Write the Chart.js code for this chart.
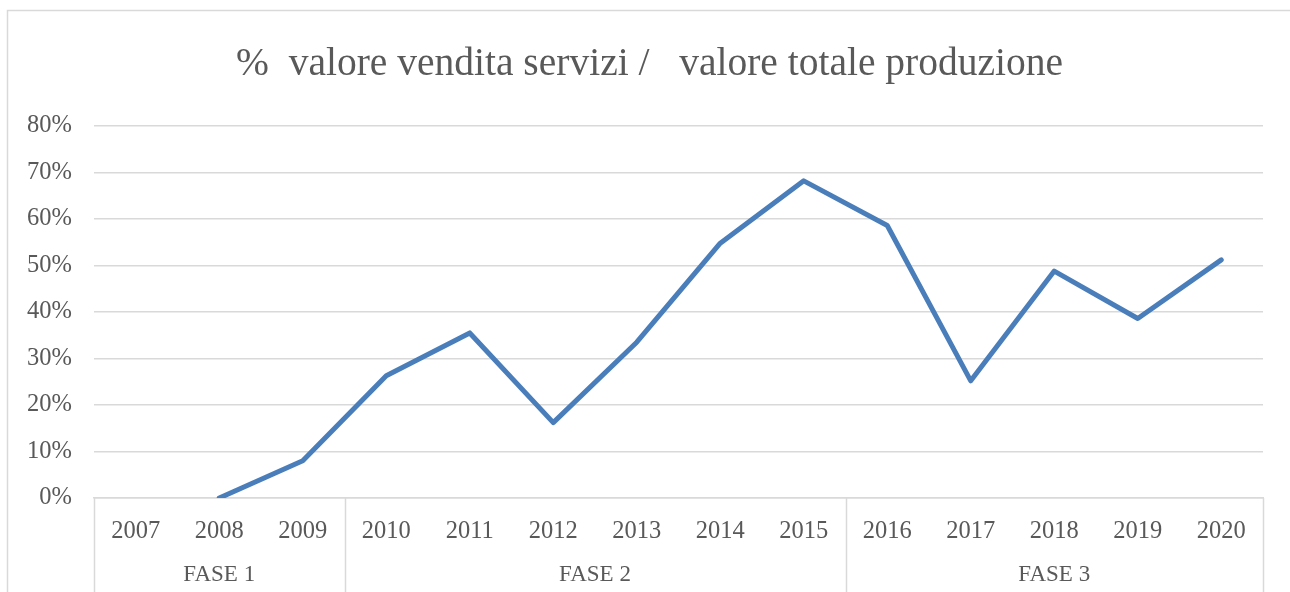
<!DOCTYPE html>
<html>
<head>
<meta charset="utf-8">
<script src="https://cdn.jsdelivr.net/npm/chart.js@4/dist/chart.umd.min.js"></script>
<style>
  html, body { margin: 0; padding: 0; background: #fff; overflow: hidden; }
  #wrap { width: 1290px; height: 592px; position: relative; }
</style>
</head>
<body>
<div id="wrap"><canvas id="c"></canvas></div>
<script>
const years = ['2007','2008','2009','2010','2011','2012','2013','2014','2015','2016','2017','2018','2019','2020'];
const shareValues = [null, 0, 8, 26.3, 35.5, 16.2, 33.5, 54.8, 68.2, 58.6, 25.2, 48.8, 38.6, 51.2];
const groupLabels = ['FASE 1', 'FASE 2', 'FASE 3'];
const groupSizes = [3, 6, 5];
const yTickValues = [0, 10, 20, 30, 40, 50, 60, 70, 80];
const chartTitle = '%  valore vendita servizi /   valore totale produzione';

const TEXT = '#595959';
const GRID = '#d9d9d9';
const FONT = "'Liberation Serif', 'Times New Roman', serif";

const frameLeft = 7.5, frameTop = 10.5, frameWidth = 1284;

const groupPlugin = {
  id: 'groups',
  beforeDraw(chart) {
    const ctx = chart.ctx;
    ctx.save();
    ctx.strokeStyle = GRID;
    ctx.lineWidth = 1.5;
    ctx.beginPath();
    ctx.moveTo(frameLeft, chart.height);
    ctx.lineTo(frameLeft, frameTop);
    ctx.lineTo(chart.width, frameTop);
    ctx.stroke();
    // title, centred on the chart frame
    ctx.fillStyle = TEXT;
    ctx.font = '39.5px ' + FONT;
    ctx.textAlign = 'center';
    ctx.textBaseline = 'middle';
    ctx.fillText(chartTitle, frameLeft + frameWidth / 2, 65);
    ctx.restore();
  },
  afterDraw(chart) {
    const ctx = chart.ctx;
    const xs = chart.scales.x;
    const area = chart.chartArea;
    const step = xs.getPixelForValue(1) - xs.getPixelForValue(0);
    const bottom = chart.height;
    ctx.save();
    ctx.strokeStyle = GRID;
    ctx.lineWidth = 1.5;
    let start = 0;
    const edges = [start];
    groupSizes.forEach(n => { start += n; edges.push(start); });
    edges.forEach(e => {
      const x = Math.round(xs.getPixelForValue(e) - step / 2) + 0.5;
      ctx.beginPath();
      ctx.moveTo(x, area.bottom);
      ctx.lineTo(x, bottom);
      ctx.stroke();
    });
    ctx.fillStyle = TEXT;
    ctx.font = '23px ' + FONT;
    ctx.textAlign = 'center';
    ctx.textBaseline = 'middle';
    let s = 0;
    groupLabels.forEach((lab, i) => {
      const a = xs.getPixelForValue(s) - step / 2;
      const b = xs.getPixelForValue(s + groupSizes[i] - 1) + step / 2;
      ctx.fillText(lab, (a + b) / 2, area.bottom + 77);
      s += groupSizes[i];
    });
    ctx.restore();
  }
};

new Chart(document.getElementById('c'), {
  type: 'line',
  data: {
    labels: years,
    datasets: [{
      data: shareValues,
      borderColor: '#4a7ebb',
      borderWidth: 5,
      pointRadius: 0,
      pointHoverRadius: 0,
      tension: 0,
      borderJoinStyle: 'round',
      borderCapStyle: 'round',
      spanGaps: false,
      fill: false
    }]
  },
  options: {
    responsive: true,
    maintainAspectRatio: false,
    animation: false,
    devicePixelRatio: 1,
    layout: { padding: { left: 0, right: 27, top: 126, bottom: 0 } },
    plugins: {
      legend: { display: false },
      tooltip: { enabled: false },
      title: { display: false }
    },
    scales: {
      x: {
        type: 'category',
        offset: true,
        grid: { display: false, drawTicks: false },
        border: { display: true, color: GRID, width: 1.5 },
        ticks: {
          color: TEXT,
          font: { family: FONT, size: 24.5 },
          padding: 19,
          maxRotation: 0,
          autoSkip: false
        },
        afterFit(scale) { scale.height = 94; }
      },
      y: {
        min: 0,
        max: 80,
        afterBuildTicks(scale) { scale.ticks = yTickValues.map(v => ({ value: v })); },
        grid: { color: GRID, lineWidth: 1.5, drawTicks: false },
        border: { display: false },
        ticks: {
          color: TEXT,
          font: { family: FONT, size: 24.5 },
          padding: 22,
          callback: v => v + '%'
        },
        afterFit(scale) { scale.width = 94; }
      }
    }
  },
  plugins: [groupPlugin]
});
</script>
</body>
</html>
